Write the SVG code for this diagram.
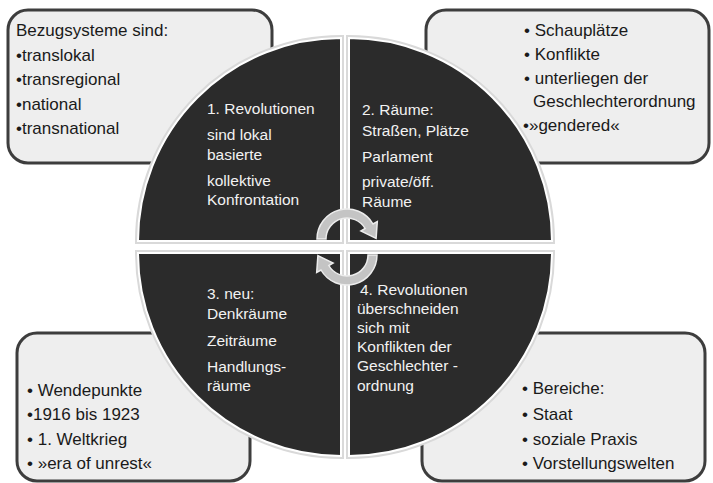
<svg xmlns="http://www.w3.org/2000/svg" width="713" height="483" viewBox="0 0 713 483">
<style>
.box{fill:#eeeeee;stroke:#3d3d3d;stroke-width:3}
.q{fill:#2b2b2b;stroke:#ffffff;stroke-width:2}
.qs{fill:none;stroke:#d9d9d9;stroke-width:6}
.bt{font-family:"Liberation Sans",Arial,sans-serif;font-size:17px;fill:#1a1a1a}
.ct{font-family:"Liberation Sans",Arial,sans-serif;font-size:15.5px;fill:#f2f2f2}
.arr{fill:#c4c4c4;stroke:#ececec;stroke-width:1.5}
</style>
<rect width="713" height="483" fill="#ffffff"/>
<g id="box-tl">
<rect class="box" x="8" y="10" width="264" height="153" rx="20"/>
<text class="bt" x="16" y="36">Bezugsysteme sind:</text>
<text class="bt" x="16" y="61">•translokal</text>
<text class="bt" x="16" y="85">•transregional</text>
<text class="bt" x="16" y="110">•national</text>
<text class="bt" x="16" y="134">•transnational</text>
</g>
<g id="box-tr">
<rect class="box" x="426" y="10" width="283" height="153" rx="20"/>
<text class="bt" x="524" y="36">• Schauplätze</text>
<text class="bt" x="524" y="60">• Konflikte</text>
<text class="bt" x="524" y="84">• unterliegen der</text>
<text class="bt" x="533" y="107">Geschlechterordnung</text>
<text class="bt" x="523" y="131">•»gendered«</text>
</g>
<g id="box-bl">
<rect class="box" x="17" y="333" width="233" height="148" rx="20"/>
<text class="bt" x="27" y="396">• Wendepunkte</text>
<text class="bt" x="27" y="420">•1916 bis 1923</text>
<text class="bt" x="27" y="445">• 1. Weltkrieg</text>
<text class="bt" x="27" y="469">• »era of unrest«</text>
</g>
<g id="box-br">
<rect class="box" x="422" y="333" width="283" height="148" rx="20"/>
<text class="bt" x="522" y="394">• Bereiche:</text>
<text class="bt" x="522" y="420">• Staat</text>
<text class="bt" x="522" y="445">• soziale Praxis</text>
<text class="bt" x="522" y="469">• Vorstellungswelten</text>
</g>
<g id="q1">
<path class="qs" d="M341,241 L138,241 A203,203 0 0 1 341,38 Z"/>
<path class="q" d="M341,241 L138,241 A203,203 0 0 1 341,38 Z"/>
<text class="ct" x="207" y="114">1. Revolutionen</text>
<text class="ct" x="207" y="140">sind lokal</text>
<text class="ct" x="207" y="160">basierte</text>
<text class="ct" x="207" y="186">kollektive</text>
<text class="ct" x="207" y="205">Konfrontation</text>
</g>
<g id="q2">
<path class="qs" d="M349,241 L349,38 A203,203 0 0 1 552,241 Z"/>
<path class="q" d="M349,241 L349,38 A203,203 0 0 1 552,241 Z"/>
<text class="ct" x="362" y="115">2. Räume:</text>
<text class="ct" x="362" y="136">Straßen, Plätze</text>
<text class="ct" x="362" y="162">Parlament</text>
<text class="ct" x="362" y="187">private/öff.</text>
<text class="ct" x="362" y="207">Räume</text>
</g>
<g id="q3">
<path class="qs" d="M341,253 L341,456 A203,203 0 0 1 138,253 Z"/>
<path class="q" d="M341,253 L341,456 A203,203 0 0 1 138,253 Z"/>
<text class="ct" x="207" y="299">3. neu:</text>
<text class="ct" x="207" y="319">Denkräume</text>
<text class="ct" x="207" y="346">Zeiträume</text>
<text class="ct" x="207" y="372">Handlungs-</text>
<text class="ct" x="207" y="391">räume</text>
</g>
<g id="q4">
<path class="qs" d="M349,253 L552,253 A203,203 0 0 1 349,456 Z"/>
<path class="q" d="M349,253 L552,253 A203,203 0 0 1 349,456 Z"/>
<text class="ct" x="360" y="295">4. Revolutionen</text>
<text class="ct" x="357" y="314">überschneiden</text>
<text class="ct" x="357" y="333">sich mit</text>
<text class="ct" x="357" y="352">Konflikten der</text>
<text class="ct" x="357" y="371">Geschlechter -</text>
<text class="ct" x="357" y="391">ordnung</text>
</g>
<g id="connectors">
<path class="arr" d="M317,239 A30,30 0 0 1 373,224 L377.3,221.5 L376.1,238.4 L360.9,231 L365.2,228.5 A21,21 0 0 0 326,239 Z"/>
<path class="arr" d="M377,255 A30,30 0 0 1 321,270 L316.7,272.5 L317.9,255.6 L333.1,263 L328.8,265.5 A21,21 0 0 0 368,255 Z"/>
</g>
</svg>
